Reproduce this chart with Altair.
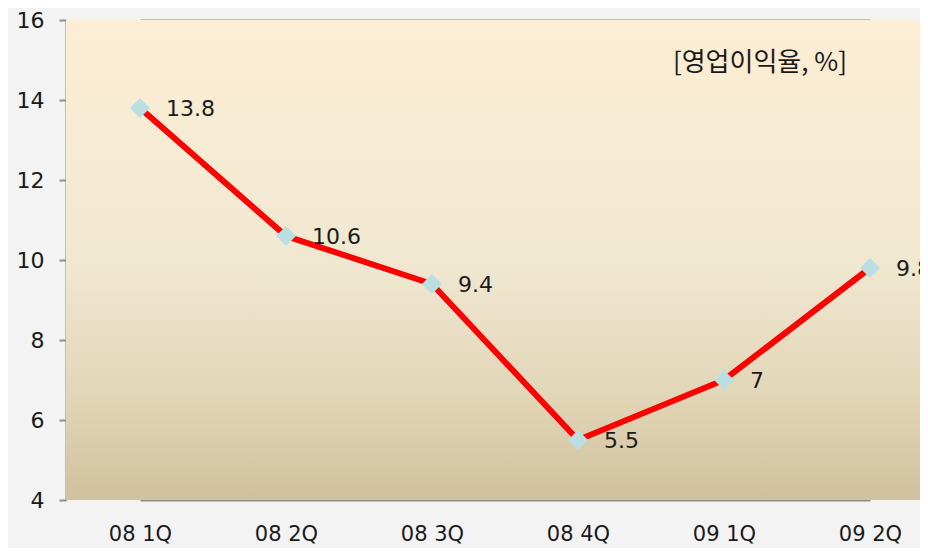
import altair as alt
import pandas as pd

quarters = ["08 1Q", "08 2Q", "08 3Q", "08 4Q", "09 1Q", "09 2Q"]
margin = [13.8, 10.6, 9.4, 5.5, 7, 9.8]
labels = ["13.8", "10.6", "9.4", "5.5", "7", "9.8"]
title_text = "[영업이익율, %]"

df = pd.DataFrame({"q": quarters, "v": margin, "lab": labels})

W, H = 854, 480
FONT = "DejaVu Sans"
KFONT = "Noto Sans CJK KR"
TXT = "#1a1a1a"

x = alt.X("q:O", sort=quarters,
          scale=alt.Scale(type="point", range=[74, 804], padding=0),
          axis=alt.Axis(title=None, labelAngle=0, labelFontSize=21, labelFont=FONT,
                        labelColor=TXT, ticks=False, domain=False, labelPadding=23))
y = alt.Y("v:Q", scale=alt.Scale(domain=[4, 16], nice=False, zero=False),
          axis=alt.Axis(title=None, values=[4, 6, 8, 10, 12, 14, 16], labelFontSize=22,
                        labelFont=FONT, labelColor=TXT, tickSize=7, tickColor="#8c8c8c",
                        tickWidth=2, gridColor="#8c8c8c", gridWidth=2, domainColor="#8c8c8c",
                        domainWidth=2, labelPadding=15))

bg = alt.Chart(df).mark_rect(
    color=alt.Gradient(gradient="linear", x1=0, y1=0, x2=0, y2=1,
                       stops=[alt.GradientStop(offset=0, color="#FCEED4"),
                              alt.GradientStop(offset=0.5, color="#F1E8D2"),
                              alt.GradientStop(offset=0.78, color="#E2D6B8"),
                              alt.GradientStop(offset=1, color="#D1C19D")])
).encode(x=alt.value(0), x2=alt.value(W), y=alt.value(0), y2=alt.value(H))

grid = alt.Chart(df).mark_point(opacity=0).encode(x=x, y=y)

line = alt.Chart(df).mark_line(color="#FF0000", strokeWidth=6).encode(x=x, y=y)
pts = alt.Chart(df).mark_point(shape="diamond", filled=True, color="#B9DFE2",
                               size=400, opacity=1).encode(x=x, y=y)
txt = alt.Chart(df).mark_text(align="left", baseline="middle", dx=26, dy=1, fontSize=22,
                              font=FONT, color=TXT).encode(x=x, y=y, text="lab:N")
title = alt.Chart(pd.DataFrame({"t": [title_text]})).mark_text(
    align="center", baseline="middle", fontSize=26, font=KFONT, color=TXT
).encode(x=alt.value(694), y=alt.value(43), text="t:N")

chart = alt.layer(bg, grid, line, pts, txt, title).properties(
    width=W, height=H,
    autosize=alt.AutoSizeParams(type="none"),
    padding={"left": 58, "top": 12, "right": 0, "bottom": 48},
    background="#F3F3F3",
).configure_view(stroke=None)

chart.save("out.html", embed_options={"renderer": "svg", "actions": False})
